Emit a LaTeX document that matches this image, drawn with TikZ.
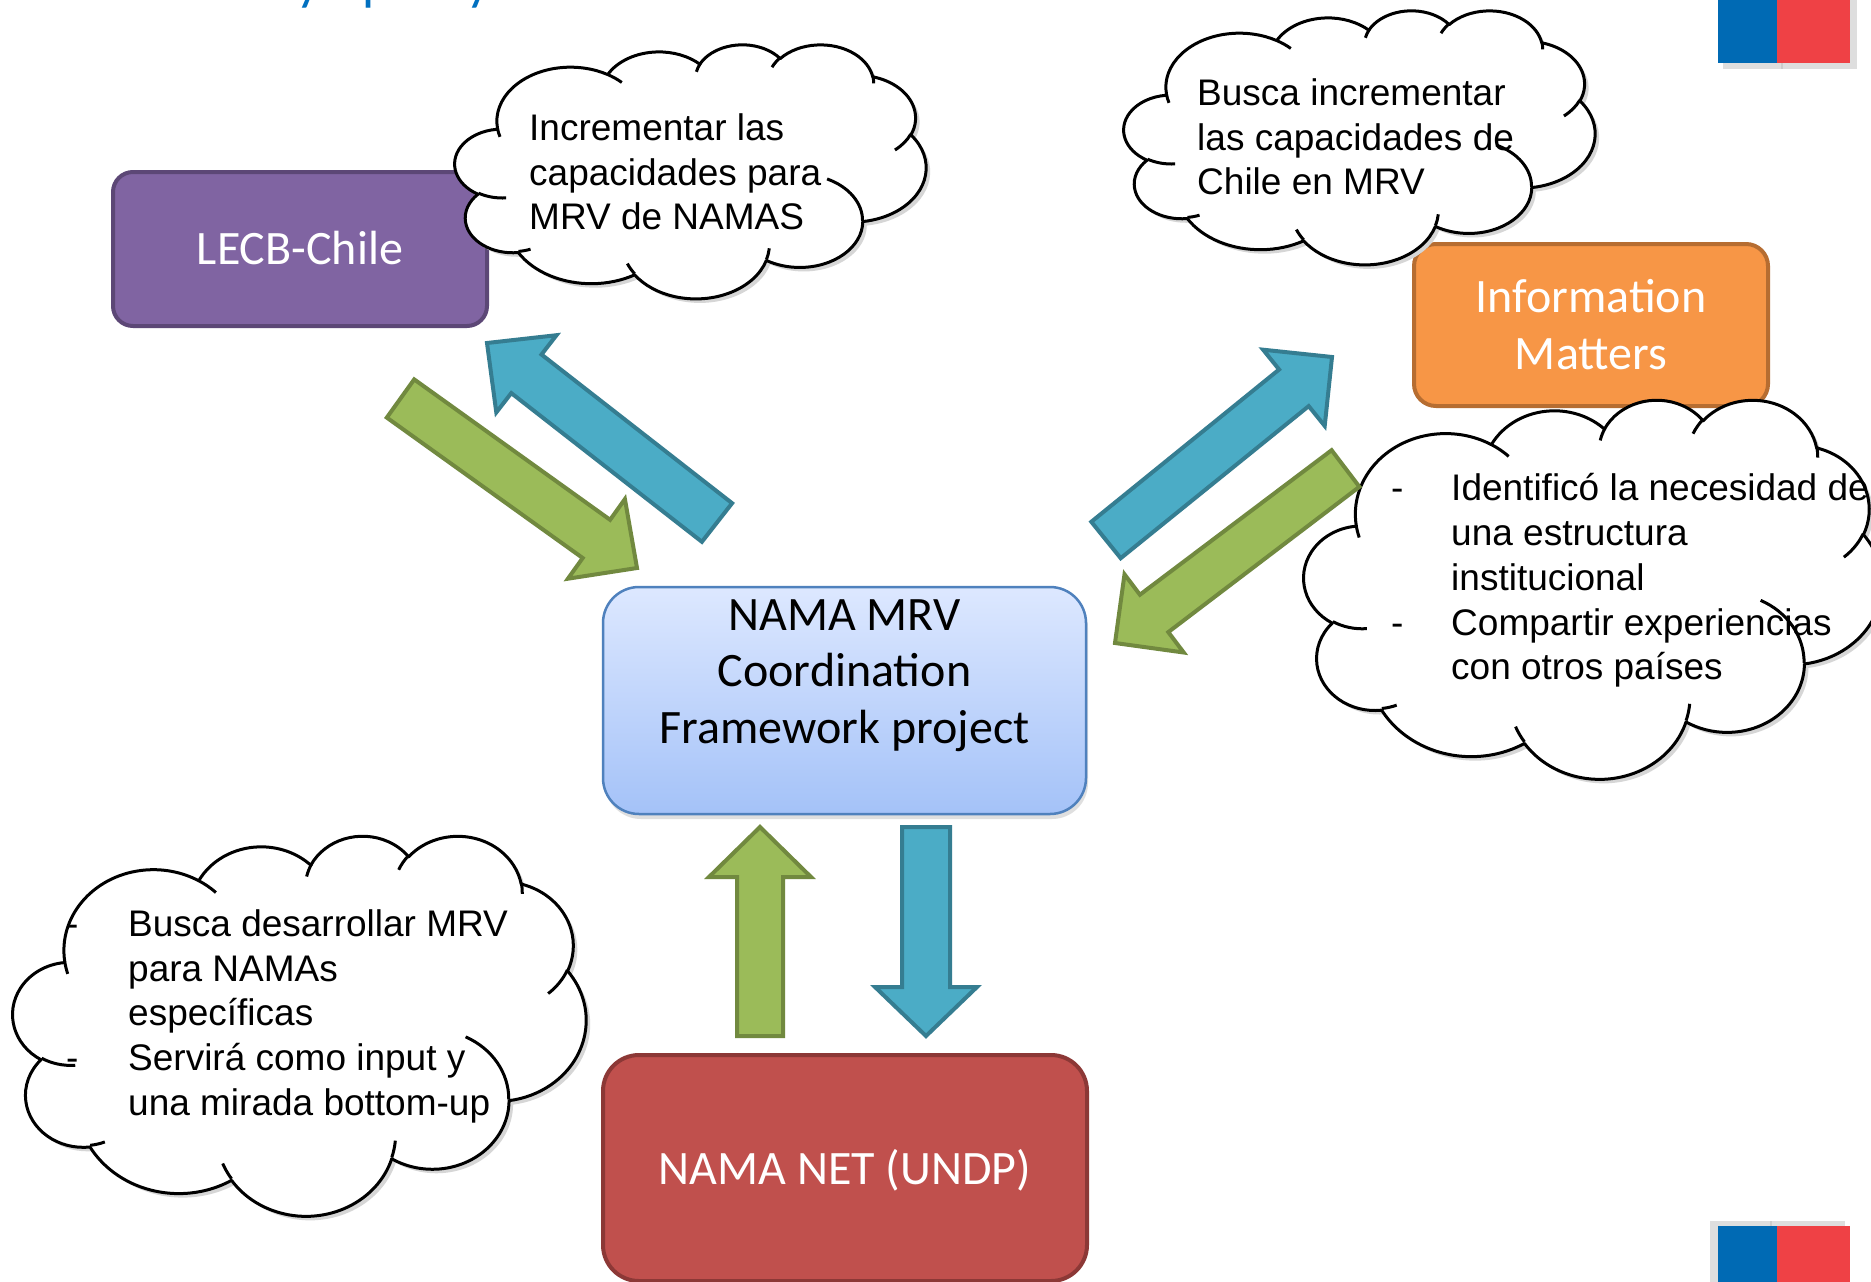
\documentclass[tikz,border=0pt]{standalone}
\usepackage{fontspec}
\setmainfont{Carlito}
\newfontfamily\arialf{Liberation Sans}
\usetikzlibrary{shadows}

\definecolor{lecbfill}{HTML}{8064A2}
\definecolor{lecbdraw}{HTML}{5C4776}
\definecolor{infofill}{HTML}{F79646}
\definecolor{infodraw}{HTML}{B66D31}
\definecolor{netfill}{HTML}{C0504D}
\definecolor{netdraw}{HTML}{8C3836}
\definecolor{ctop}{HTML}{DDE8FF}
\definecolor{cbot}{HTML}{A4C2F8}
\definecolor{cdraw}{HTML}{4F81BD}
\definecolor{grfill}{HTML}{9BBB59}
\definecolor{grdraw}{HTML}{71893F}
\definecolor{blfill}{HTML}{4BACC6}
\definecolor{bldraw}{HTML}{357D91}
\definecolor{titleblue}{HTML}{0070C0}
\definecolor{flagblue}{HTML}{006AB4}
\definecolor{flagred}{HTML}{EF4145}
\definecolor{flagshadow}{HTML}{DEDEDE}

% ---- PowerPoint-style cloud (geometry in 1/10 of 43200 units) ----
\newcommand\cldsetup[4]{%
  \def\cldx{#1}\def\cldy{#2}%
  \pgfmathsetmacro\cldsx{#3/4320}%
  \pgfmathsetmacro\cldsy{#4/4320}}
\newcommand\cldmove[2]{%
  \pgfmathsetmacro\cldpx{\cldx+\cldsx*#1}%
  \pgfmathsetmacro\cldpy{-1*(\cldy+\cldsy*#2)}%
  \pgfpathmoveto{\pgfpoint{\cldpx pt}{\cldpy pt}}}
\newcommand\cldarc[4]{%
  \pgfmathsetmacro\cldts{atan2(#1*sin(#3),#2*cos(#3))}%
  \pgfmathsetmacro\cldte{atan2(#1*sin(#3+#4),#2*cos(#3+#4))}%
  \pgfmathsetmacro\clddt{\cldte-\cldts}%
  \pgfmathsetmacro\clddt{(\clddt<0)*360+\clddt}%
  \pgfmathsetmacro\cldsa{-1*(\cldts)}%
  \pgfmathsetmacro\cldea{-1*(\cldts)-\clddt}%
  \pgfmathsetmacro\clda{\cldsx*#1}%
  \pgfmathsetmacro\cldb{\cldsy*#2}%
  \pgfpatharc{\cldsa}{\cldea}{\clda pt and \cldb pt}}
\newcommand\cloudmain{%
  \cldmove{390}{1437}%
  \cldarc{675.3}{919.0}{-190.4875}{123.7805}%
  \cldarc{533.3}{726.7}{-144.1024}{89.9452}%
  \cldarc{436.5}{594.5}{-145.8079}{99.7230}%
  \cldarc{485.7}{659.5}{-130.9861}{117.2417}%
  \cldarc{533.3}{727.3}{-78.7089}{109.0269}%
  \cldarc{677.5}{922.0}{-46.2673}{130.2690}%
  \cldarc{578.5}{786.7}{0.6250}{114.0333}%
  \cldarc{675.2}{921.5}{22.4516}{115.1726}%
  \cldarc{772.0}{1054.3}{66.2426}{75.7110}%
  \cldarc{436.0}{591.8}{-274.9421}{146.7356}%
  \cldarc{434.5}{594.5}{-246.8285}{152.5189}%
  \pgfpathclose}
\newcommand\cloudinner{%
  \cldmove{469.3}{2617.7}\cldarc{434.5}{594.5}{86.7420}{26.4295}%
  \cldmove{692.8}{3489.9}\cldarc{436.0}{591.8}{73.6105}{11.4475}%
  \cldmove{1647.8}{3909.0}\cldarc{675.2}{921.5}{137.6242}{14.0811}%
  \cldmove{2882.7}{3475.1}\cldarc{675.2}{921.5}{6.4533}{15.9984}%
  \cldmove{3412.9}{2295.4}\cldarc{578.5}{786.7}{-70.2924}{70.9174}%
  \cldmove{4179.8}{1535.4}\cldarc{533.3}{727.3}{30.3180}{27.7515}%
  \cldmove{3832.4}{542.6}\cldarc{485.7}{659.5}{-13.7443}{14.8636}%
  \cldmove{2907.8}{395.2}\cldarc{485.7}{659.5}{-149.1815}{18.1868}%
  \cldmove{2214.1}{472.0}\cldarc{436.5}{594.5}{-163.4943}{17.6942}%
  \cldmove{1400.0}{519.2}\cldarc{675.3}{919.0}{-66.7070}{12.3194}%
  \cldmove{412.7}{1578.9}\cldarc{675.3}{919.0}{157.6544}{11.8582}}
\newcommand\drawcloud[4]{%
  \cldsetup{#1}{#2}{#3}{#4}%
  \begin{pgfscope}
    \pgftransformshift{\pgfpoint{4pt}{-4pt}}%
    \cloudmain
    \pgfsetfillcolor{black!16}%
    \pgfusepath{fill}%
  \end{pgfscope}
  \begin{pgfscope}
    \pgfsetlinewidth{3pt}%
    \pgfsetroundjoin
    \pgfsetfillcolor{white}\pgfsetstrokecolor{black}%
    \cloudmain
    \pgfusepath{fill,stroke}%
    \cloudinner
    \pgfusepath{stroke}%
  \end{pgfscope}}

\tikzset{
  boxshape/.style={rounded corners=#1, line width=4pt, inner sep=0pt},
  boxtext/.style={font=\fontsize{48}{58}\selectfont, inner sep=0pt, anchor=base},
  cltext/.style={font=\arialf\fontsize{37}{44}\selectfont, inner sep=0pt, anchor=base west, text=black},
  grarrow/.style={fill=grfill, draw=grdraw, line width=4pt, line join=miter},
  blarrow/.style={fill=blfill, draw=bldraw, line width=4pt, line join=miter},
  titlechar/.style={font=\fontsize{54}{60}\selectfont, text=titleblue, inner sep=0pt, anchor=base west}
}

\begin{document}
\begin{tikzpicture}[x=1pt,y=-1pt]
\path[use as bounding box, fill=white] (0,0) rectangle (1871,1282);

% title fragment (only descenders visible)
\node[titlechar] (tt1) at (296,-1) {y};
\node[titlechar] (tt2) at (362,-1) {p};
\node[titlechar] (tt3) at (466,-1) {y};

% flags
\fill[flagshadow] (1723,0) rectangle (1857,69);
\draw[black!20, line width=1.5pt] (1782,63) -- (1782,69);
\fill[flagblue] (1718,0) rectangle (1777,63);
\fill[flagred] (1777,0) rectangle (1850,63);
\fill[flagshadow] (1710,1221) rectangle (1845,1282);
\draw[black!20, line width=1.5pt] (1771,1221) -- (1771,1226);
\fill[flagblue] (1718,1226) rectangle (1777,1282);
\fill[flagred] (1777,1226) rectangle (1850,1282);

% boxes
\node[boxshape=20pt, fill=lecbfill, draw=lecbdraw, minimum width=374pt, minimum height=154pt] (lecb) at (300,249) {};
\node[boxshape=22pt, fill=infofill, draw=infodraw, minimum width=354pt, minimum height=162pt] (info) at (1591,325) {};
\node[boxshape=36pt, fill=netfill, draw=netdraw, minimum width=484pt, minimum height=226pt] (net) at (845,1168) {};
\node[rounded corners=36pt, draw=cdraw, line width=2.5pt, top color=ctop, bottom color=cbot,
      minimum width=483pt, minimum height=227pt, inner sep=0pt,
      drop shadow={opacity=0.25, shadow xshift=2pt, shadow yshift=-5pt}] (nama) at (844.5,700.5) {};

% clouds
\drawcloud{455}{44}{471}{254}
\drawcloud{1124}{10}{471}{254}
\drawcloud{1304}{399}{578}{379}
\drawcloud{13}{835}{573}{380}

% block arrows
\draw[blarrow] (487,343) -- (556.5,335.2) -- (541.5,354.5) -- (732.1,503.2) -- (701.9,541.8) -- (511.3,393.1) -- (496.3,412.4) -- cycle;
\draw[grarrow] (637,568) -- (624.9,499.1) -- (610.1,519.8) -- (414.2,379.4) -- (386.8,417.6) -- (582.7,558) -- (567.9,578.7) -- cycle;
\draw[blarrow] (1332,357) -- (1263.1,349.7) -- (1279.1,369.5) -- (1091.3,521.8) -- (1120.7,558.2) -- (1308.7,406.1) -- (1324.7,425.9) -- cycle;
\draw[grarrow] (1115,643) -- (1124.5,574.3) -- (1139.9,594.7) -- (1331.6,450.2) -- (1359.4,486.8) -- (1168.3,632.1) -- (1183.7,652.5) -- cycle;
\draw[grarrow] (760,827) -- (811,877) -- (783,877) -- (783,1036) -- (737,1036) -- (737,877) -- (709,877) -- cycle;
\draw[blarrow] (926,1036) -- (875,987) -- (902,987) -- (902,827) -- (950,827) -- (950,987) -- (977,987) -- cycle;

% box texts
\node[boxtext, text=white] (lecbt) at (300,264) {LECB-Chile};
\node[boxtext, text=white] (infot1) at (1591,312) {Information};
\node[boxtext, text=white] (infot2) at (1591,369) {Matters};
\node[boxtext, text=black] (namat1) at (844.5,630) {NAMA MRV};
\node[boxtext, text=black] (namat2) at (844.5,686) {Coordination};
\node[boxtext, text=black] (namat3) at (844.5,743) {Framework project};
\node[boxtext, text=white] (nett) at (845,1184) {NAMA NET (UNDP)};

% cloud texts
\node[cltext] (ca1) at (529,140) {Incrementar las};
\node[cltext] (ca2) at (529,185) {capacidades para};
\node[cltext] (ca3) at (529,229) {MRV de NAMAS};

\node[cltext] (cb1) at (1197,105) {Busca incrementar};
\node[cltext] (cb2) at (1197,150) {las capacidades de};
\node[cltext] (cb3) at (1197,194) {Chile en MRV};

\node[cltext] (cc0a) at (1391,500) {-};
\node[cltext] (cc1) at (1451,500) {Identificó la necesidad de};
\node[cltext] (cc2) at (1451,545) {una estructura};
\node[cltext] (cc3) at (1451,590) {institucional};
\node[cltext] (cc0b) at (1391,635) {-};
\node[cltext] (cc4) at (1451,635) {Compartir experiencias};
\node[cltext] (cc5) at (1451,679) {con otros países};

\node[cltext] (cd0a) at (66,936) {-};
\node[cltext] (cd1) at (128,936) {Busca desarrollar MRV};
\node[cltext] (cd2) at (128,981) {para NAMAs};
\node[cltext] (cd3) at (128,1025) {específicas};
\node[cltext] (cd0b) at (66,1070) {-};
\node[cltext] (cd4) at (128,1070) {Servirá como input y};
\node[cltext] (cd5) at (128,1115) {una mirada bottom-up};
\end{tikzpicture}
\end{document}
